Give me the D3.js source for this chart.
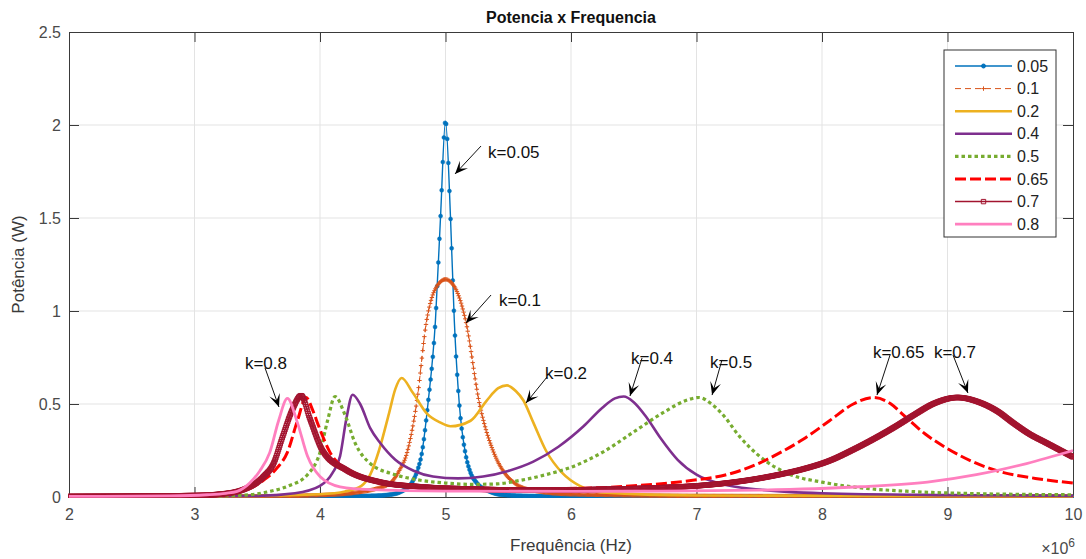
<!DOCTYPE html>
<html>
<head>
<meta charset="utf-8">
<script src="https://cdn.jsdelivr.net/npm/d3@7"></script>
<style>
  body { margin: 0; background: #fff; }
  svg text { font-family: "Liberation Sans", Arial, Helvetica, sans-serif; }
</style>
</head>
<body>
<svg id="chart" width="1086" height="559"></svg>
<script>
// ---- data (frequency in MHz, power in W) ----
const kLabels = ['0.05', '0.1', '0.2', '0.4', '0.5', '0.65', '0.7', '0.8'];

const k005 = [[2,0.002],[3,0.002],[4,0.004],[4.4,0.006],[4.55,0.012],[4.65,0.03],[4.73,0.075],[4.78,0.15],[4.81,0.23],
  [4.86,0.5],[4.92,0.95],[4.96,1.5],[5.0,2.02],[5.04,1.5],[5.07,0.95],[5.11,0.5],[5.16,0.23],[5.2,0.13],[5.25,0.075],
  [5.35,0.03],[5.45,0.012],[5.7,0.005],[7,0.002],[10,0.001]];
const k01 = [[2,0.002],[3.5,0.004],[4.0,0.01],[4.3,0.025],[4.45,0.045],[4.56,0.075],[4.63,0.14],[4.69,0.23],[4.77,0.505],
  [4.85,0.95],[4.92,1.12],[5.0,1.17],[5.08,1.12],[5.16,0.95],[5.27,0.505],[5.39,0.23],[5.47,0.13],[5.55,0.075],
  [5.7,0.035],[6.0,0.015],[7,0.006],[10,0.003]];
const k02 = [[2,0.002],[3.5,0.006],[4.0,0.015],[4.2,0.03],[4.33,0.06],[4.4,0.12],[4.47,0.25],[4.55,0.45],[4.6,0.58],
  [4.65,0.64],[4.74,0.56],[4.85,0.45],[4.96,0.4],[5.04,0.38],[5.2,0.41],[5.33,0.52],[5.42,0.585],[5.49,0.6],[5.56,0.57],
  [5.62,0.52],[5.7,0.4],[5.8,0.25],[5.93,0.13],[6.07,0.06],[6.25,0.025],[7,0.008],[10,0.003]];
const k04 = [[2,0.002],[3.5,0.006],[3.8,0.02],[4.0,0.06],[4.1,0.13],[4.16,0.22],[4.21,0.42],[4.26,0.55],[4.32,0.5],
  [4.4,0.37],[4.48,0.29],[4.6,0.2],[4.75,0.14],[4.9,0.11],[5.1,0.1],[5.3,0.11],[5.5,0.14],[5.7,0.19],[5.9,0.27],
  [6.1,0.38],[6.25,0.48],[6.35,0.53],[6.42,0.54],[6.5,0.51],[6.6,0.43],[6.71,0.32],[6.85,0.2],[7.0,0.12],[7.2,0.07],
  [7.5,0.04],[8,0.02],[9,0.01],[10,0.006]];
const k05 = [[2,0.002],[3.0,0.004],[3.4,0.01],[3.6,0.03],[3.75,0.06],[3.9,0.12],[4.0,0.24],[4.06,0.41],[4.12,0.54],
  [4.2,0.44],[4.28,0.29],[4.4,0.18],[4.6,0.12],[4.8,0.09],[5.0,0.075],[5.2,0.068],[5.4,0.07],[5.6,0.09],[5.8,0.12],
  [6.0,0.16],[6.25,0.24],[6.5,0.35],[6.75,0.46],[6.92,0.52],[7.02,0.535],[7.12,0.5],[7.2,0.45],[7.35,0.32],[7.5,0.22],
  [7.75,0.12],[8.0,0.08],[8.3,0.05],[8.7,0.03],[9.1,0.02],[10,0.012]];
const k065 = [[2,0.003],[3.0,0.008],[3.2,0.015],[3.42,0.04],[3.55,0.09],[3.65,0.15],[3.74,0.24],[3.82,0.41],[3.89,0.535],
  [3.94,0.47],[3.99,0.38],[4.08,0.24],[4.26,0.13],[4.48,0.075],[4.8,0.05],[5.2,0.04],[5.6,0.038],[5.91,0.045],
  [6.23,0.05],[6.5,0.06],[6.97,0.09],[7.24,0.12],[7.51,0.185],[7.67,0.24],[7.85,0.31],[8.06,0.41],[8.25,0.5],
  [8.41,0.535],[8.55,0.5],[8.65,0.44],[8.82,0.34],[9.0,0.26],[9.2,0.19],[9.4,0.14],[9.7,0.1],[10,0.075]];
const k07 = [[2,0.003],[3.0,0.008],[3.2,0.015],[3.39,0.04],[3.55,0.11],[3.63,0.18],[3.7,0.32],[3.78,0.47],[3.85,0.545],
  [3.92,0.42],[4.02,0.25],[4.21,0.145],[4.48,0.08],[4.8,0.055],[5.2,0.043],[5.6,0.038],[5.91,0.038],[6.3,0.042],
  [6.71,0.05],[7.0,0.06],[7.24,0.075],[7.5,0.1],[7.67,0.122],[7.86,0.152],[8.06,0.195],[8.25,0.255],[8.46,0.33],
  [8.6,0.385],[8.73,0.44],[8.9,0.505],[9.08,0.535],[9.25,0.51],[9.4,0.46],[9.52,0.4],[9.65,0.34],[9.79,0.29],[10,0.215]];
const k08 = [[2,0.003],[2.8,0.006],[3.1,0.012],[3.25,0.02],[3.34,0.03],[3.44,0.075],[3.52,0.14],[3.6,0.24],[3.67,0.41],
  [3.74,0.53],[3.82,0.4],[3.9,0.22],[4.0,0.11],[4.16,0.055],[4.4,0.04],[5,0.032],[6,0.03],[6.7,0.032],[7.5,0.037],
  [8.3,0.055],[8.84,0.08],[9.23,0.12],[9.63,0.18],[10,0.25]];

const seriesData = [k005, k01, k02, k04, k05, k065, k07, k08];

const xTicks = [2, 3, 4, 5, 6, 7, 8, 9, 10];
const yTicks = [0, 0.5, 1, 1.5, 2, 2.5];

// annotations: label, text anchor point, arrow tail, arrow tip (data units)
const annLabels = ['k=0.05', 'k=0.1', 'k=0.2', 'k=0.4', 'k=0.5', 'k=0.65', 'k=0.7', 'k=0.8'];
const annText = [[5.339,1.855],[5.426,1.059],[5.793,0.667],[6.478,0.747],[7.108,0.726],[8.406,0.78],[8.892,0.78],[3.402,0.72]];
const annTail = [[5.283,1.887],[5.363,1.086],[5.809,0.645],[6.566,0.747],[7.203,0.737],[8.542,0.763],[9.044,0.763],[3.562,0.694]];
const annTip  = [[5.076,1.737],[5.163,0.935],[5.641,0.505],[6.47,0.543],[7.124,0.548],[8.438,0.548],[9.163,0.559],[3.673,0.484]];

// ---- styles ----
const STYLE = [
  { color: '#0072bd', width: 1.4, dash: null,    marker: 'dot',    step: 1.1 },
  { color: '#d95319', width: 1,   dash: '6,4',   marker: 'plus',   step: 0.8 },
  { color: '#edb120', width: 2.6, dash: null,    marker: null },
  { color: '#7e2f8e', width: 2.6, dash: null,    marker: null },
  { color: '#77ac30', width: 3.2, dash: '3.5,3', marker: null },
  { color: '#ff0000', width: 3,   dash: '11,4',  marker: null },
  { color: '#a2142f', width: 1.5, dash: null,    marker: 'square', step: 0.6 },
  { color: '#ff7fbf', width: 2.8, dash: null,    marker: null }
];

const svg = d3.select('#chart');
const margin = { left: 69, right: 13, top: 32, bottom: 62 };
const W = 1086 - margin.left - margin.right, H = 559 - margin.top - margin.bottom;

const x = d3.scaleLinear().domain([2, 10]).range([0, W]);
const y = d3.scaleLinear().domain([0, 2.5]).range([H, 0]);

svg.append('defs').append('clipPath').attr('id', 'plotClip')
  .append('rect').attr('x', -1).attr('y', -1).attr('width', W + 2).attr('height', H + 2);

const g = svg.append('g').attr('transform', `translate(${margin.left},${margin.top})`);

// grid
xTicks.slice(1, -1).forEach(v => {
  g.append('line').attr('x1', x(v)).attr('x2', x(v)).attr('y1', 0).attr('y2', H)
    .attr('stroke', '#e3e3e3').attr('stroke-width', 1);
});
yTicks.slice(1, -1).forEach(v => {
  g.append('line').attr('x1', 0).attr('x2', W).attr('y1', y(v)).attr('y2', y(v))
    .attr('stroke', '#e3e3e3').attr('stroke-width', 1);
});

// axes (ticks inward, matlab style)
const axisColor = '#3a3a3a';
function styleAxis(s) {
  s.select('.domain').attr('stroke', axisColor);
  s.selectAll('.tick line').attr('stroke', axisColor);
  s.selectAll('.tick text').attr('fill', '#4a4a4a').style('font-size', '16px')
    .style('font-family', '"Liberation Sans", Arial, sans-serif');
}
g.append('g').attr('transform', `translate(0,${H})`)
  .call(d3.axisBottom(x).tickValues(xTicks).tickFormat(d3.format('d')).tickSizeInner(-10).tickSizeOuter(0).tickPadding(12))
  .call(styleAxis);
g.append('g')
  .call(d3.axisLeft(y).tickValues(yTicks).tickFormat(d => d).tickSizeInner(-10).tickSizeOuter(0).tickPadding(8))
  .call(styleAxis);
g.append('g')
  .call(d3.axisTop(x).tickValues(xTicks).tickFormat('').tickSizeInner(-10).tickSizeOuter(0))
  .call(styleAxis);
g.append('g').attr('transform', `translate(${W},0)`)
  .call(d3.axisRight(y).tickValues(yTicks).tickFormat('').tickSizeInner(-10).tickSizeOuter(0))
  .call(styleAxis);

// curves
const line = d3.line().x(d => x(d[0])).y(d => y(d[1])).curve(d3.curveMonotoneX);
const plot = g.append('g').attr('clip-path', 'url(#plotClip)');

// marker positions: even steps in x along the drawn curve
function sampleByX(node, step) {
  const L = node.getTotalLength();
  const pts = [];
  let next = -Infinity;
  for (let s = 0; s <= L; s += 0.3) {
    const p = node.getPointAtLength(s);
    if (p.x >= next) { pts.push(p); next = p.x + step; }
  }
  return pts;
}

function markerPath(pts, kind) {
  let d = '';
  pts.forEach(p => {
    const px = p.x.toFixed(2), py = p.y.toFixed(2);
    if (kind === 'dot') {
      const r = 2;
      d += `M${(p.x + r).toFixed(2)},${py}A${r},${r} 0 1 0 ${(p.x - r).toFixed(2)},${py}A${r},${r} 0 1 0 ${(p.x + r).toFixed(2)},${py}`;
    } else if (kind === 'plus') {
      d += `M${(p.x - 2.2).toFixed(2)},${py}h4.4M${px},${(p.y - 2.2).toFixed(2)}v4.4`;
    } else {
      d += `M${(p.x - 2.2).toFixed(2)},${(p.y - 2.2).toFixed(2)}h4.4v4.4h-4.4z`;
    }
  });
  return d;
}

seriesData.forEach((data, i) => {
  const st = STYLE[i];
  const path = plot.append('path').datum(data)
    .attr('d', line)
    .attr('fill', 'none')
    .attr('stroke', st.color)
    .attr('stroke-width', st.width)
    .attr('stroke-dasharray', st.dash)
    .attr('stroke-linejoin', 'round');
  if (st.marker) {
    const pts = sampleByX(path.node(), st.step);
    plot.append('path').attr('d', markerPath(pts, st.marker))
      .attr('fill', st.marker === 'dot' ? st.color : 'none')
      .attr('stroke', st.color)
      .attr('stroke-width', st.marker === 'dot' ? 0.5 : 1);
  }
});

// annotations
function arrowHead(tail, tip) {
  const dx = tip[0] - tail[0], dy = tip[1] - tail[1];
  const len = Math.hypot(dx, dy);
  const ux = dx / len, uy = dy / len, nx = -uy, ny = ux;
  const Lh = 13, Wh = 5.5, notch = 7;
  const bx = tip[0] - ux * Lh, by = tip[1] - uy * Lh;
  const mx = tip[0] - ux * notch, my = tip[1] - uy * notch;
  return `M${tip[0]},${tip[1]}L${bx + nx * Wh},${by + ny * Wh}L${mx},${my}L${bx - nx * Wh},${by - ny * Wh}Z`;
}

annLabels.forEach((lab, i) => {
  const t = [x(annText[i][0]), y(annText[i][1])];
  const a = [x(annTail[i][0]), y(annTail[i][1])];
  const b = [x(annTip[i][0]), y(annTip[i][1])];
  g.append('text').attr('x', t[0]).attr('y', t[1]).attr('dy', '0.35em')
    .style('font-size', '17px').attr('fill', '#111').text(lab);
  g.append('line').attr('x1', a[0]).attr('y1', a[1]).attr('x2', b[0]).attr('y2', b[1])
    .attr('stroke', '#111').attr('stroke-width', 1);
  g.append('path').attr('d', arrowHead(a, b)).attr('fill', '#000');
});

// legend
const leg = svg.append('g').attr('transform', 'translate(944,50)');
leg.append('rect').attr('width', 112).attr('height', 187).attr('fill', '#fff')
  .attr('stroke', '#333').attr('stroke-width', 1);
kLabels.forEach((lab, i) => {
  const st = STYLE[i];
  const yy = 16 + i * 22.6;
  leg.append('line').attr('x1', 11).attr('x2', 68).attr('y1', yy).attr('y2', yy)
    .attr('stroke', st.color).attr('stroke-width', st.width).attr('stroke-dasharray', st.dash);
  if (st.marker) {
    leg.append('path').attr('d', markerPath([{ x: 39.5, y: yy }], st.marker))
      .attr('fill', st.marker === 'dot' ? st.color : 'none')
      .attr('stroke', st.color).attr('stroke-width', 1);
  }
  leg.append('text').attr('x', 73).attr('y', yy).attr('dy', '0.35em')
    .style('font-size', '16px').attr('fill', '#222').text(lab);
});

// titles
svg.append('text').attr('x', margin.left + W / 2).attr('y', 23).attr('text-anchor', 'middle')
  .style('font-size', '16px').style('font-weight', 'bold').attr('fill', '#111').text('Potencia x Frequencia');
svg.append('text').attr('x', margin.left + W / 2).attr('y', 551).attr('text-anchor', 'middle')
  .style('font-size', '17px').attr('fill', '#3a3a3a').text('Frequência (Hz)');
svg.append('text').attr('transform', `translate(24,${margin.top + H / 2}) rotate(-90)`).attr('text-anchor', 'middle')
  .style('font-size', '17px').attr('fill', '#3a3a3a').text('Potência (W)');
const ex = svg.append('text').attr('x', 1075).attr('y', 554).attr('text-anchor', 'end')
  .style('font-size', '16px').attr('fill', '#4a4a4a');
ex.append('tspan').text('×10');
ex.append('tspan').attr('dy', -7).style('font-size', '12px').text('6');
</script>
</body>
</html>
